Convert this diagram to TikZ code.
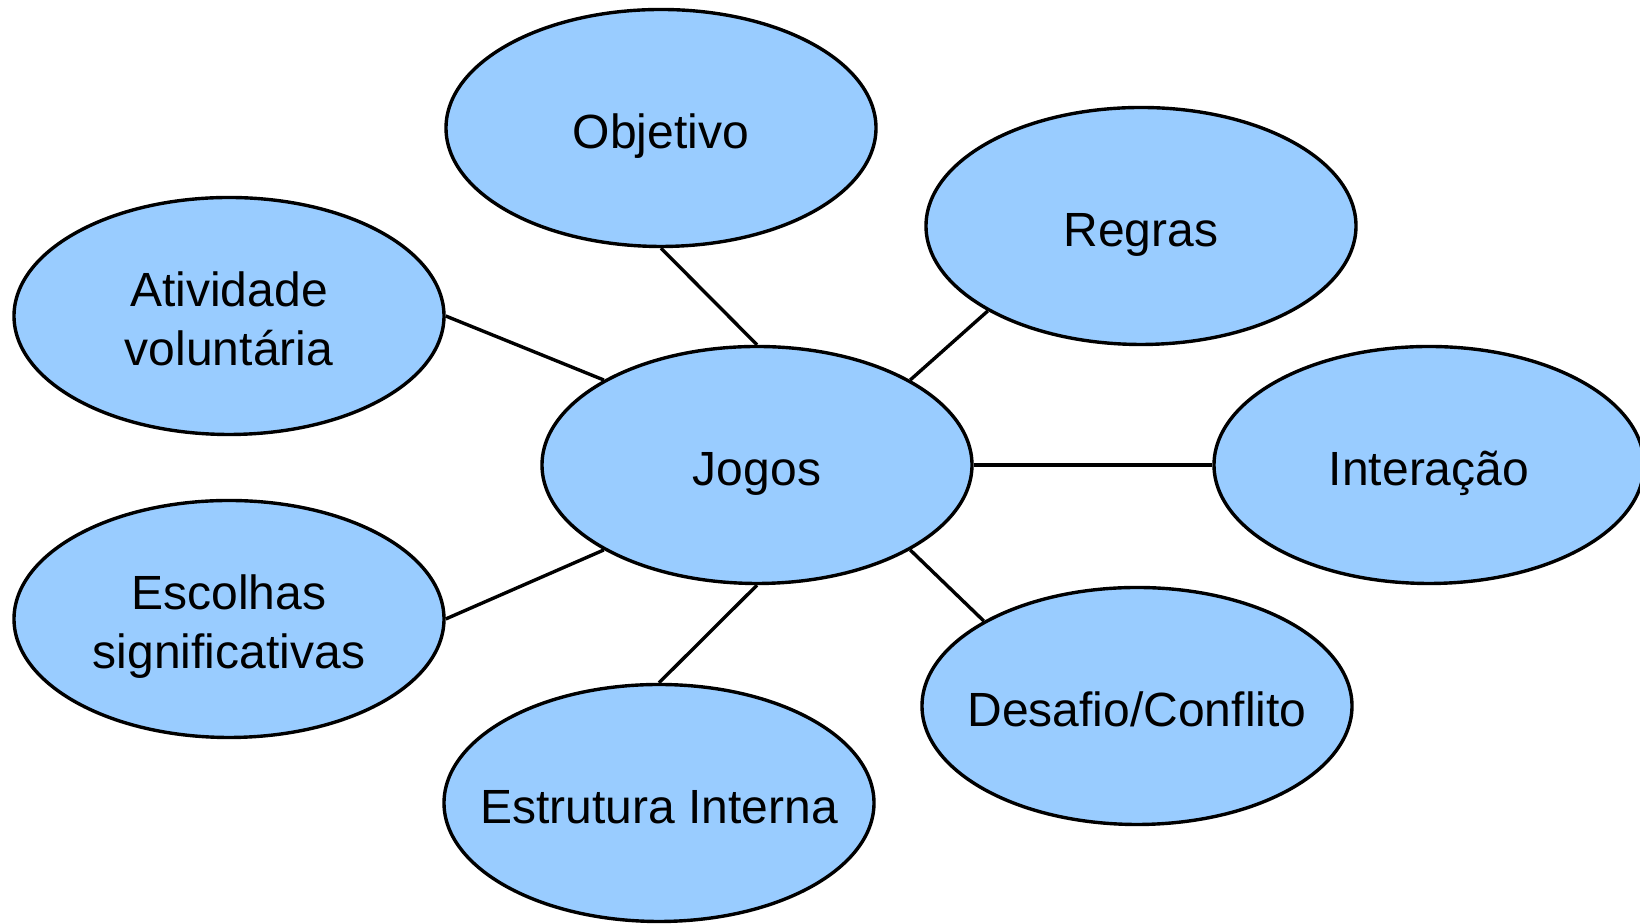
\documentclass[tikz,border=0pt]{standalone}
\usepackage{fontspec}
\setmainfont{Liberation Sans}
\usetikzlibrary{shapes.geometric}

\definecolor{topicblue}{HTML}{99CCFF}

\begin{document}
\begin{tikzpicture}[x=0.5pt,y=0.5pt,line width=1.7pt,
  topic node/.style={ellipse,fill=topicblue,draw=black,inner sep=-30pt,
    minimum width=215pt,minimum height=118.5pt,align=center,
    font=\fontsize{24}{29.5}\selectfont},
  one line/.style={text height=25.5pt,text depth=5pt},
  two lines/.style={text height=55pt,text depth=5pt}]

  \useasboundingbox (0,0) rectangle (1640,924);

  \node[topic node,one line] (jogos) at (757,459) {Jogos};

  \node[topic node,one line]  (objetivo)  at (661,796)  {Objetivo};
  \node[topic node,one line]  (regras)    at (1141,698) {Regras};
  \node[topic node,two lines] (atividade) at (229,608)  {Atividade\\voluntária};
  \node[topic node,one line]  (interacao) at (1429,459) {Interação};
  \node[topic node,two lines] (escolhas)  at (229,305)  {Escolhas\\significativas};
  \node[topic node,one line]  (estrutura) at (659,121)  {Estrutura Interna};
  \node[topic node,one line]  (desafio)   at (1137,218) {Desafio/Conflito};

  \path
  (jogos.north)      edge [] (objetivo.south)
  (jogos.south)      edge [] (estrutura.north)
  (jogos.north east) edge [] (regras.south west)
  (jogos.north west) edge [] (atividade.east)
  (jogos.south west) edge [] (escolhas.east)
  (jogos.south east) edge [] (desafio.north west)
  (jogos.east)       edge [] (interacao.west);
\end{tikzpicture}
\end{document}
